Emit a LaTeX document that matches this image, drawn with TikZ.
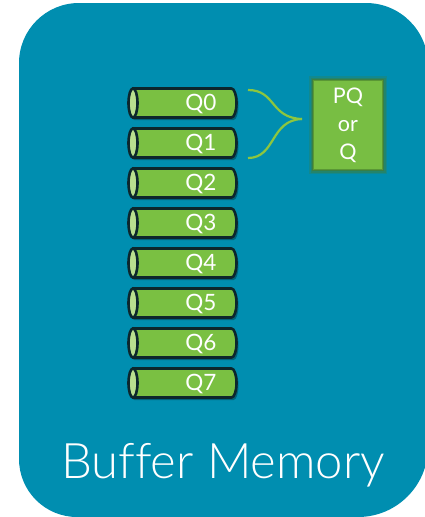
\documentclass[tikz,border=0pt]{standalone}
\usepackage{fontspec}
\setmainfont{Lato}
\newfontfamily\thinfont{Lato Light}[Ligatures=NoCommon]
\definecolor{bgteal}{RGB}{0,142,176}
\definecolor{qgreen}{RGB}{122,192,66}
\definecolor{qlight}{RGB}{184,223,143}
\definecolor{qline}{RGB}{12,38,44}
\definecolor{bracegreen}{RGB}{141,198,63}
\definecolor{pqgreen}{RGB}{120,190,67}
\definecolor{pqedge}{RGB}{70,125,45}
\begin{document}
\begin{tikzpicture}[x=1pt,y=-1pt,
  qanchor/.style={rectangle, draw=none, minimum width=109pt, minimum height=31pt, inner sep=0pt, outer sep=0pt},
  qbody/.style={fill=qgreen, draw=qline, line width=2.6pt, line join=round},
  qend/.style={fill=qlight, draw=qline, line width=2.6pt},
  qshadow/.style={fill=black, opacity=0.3},
  qlabel/.style={text=white, font=\fontsize{22.5}{22.5}\selectfont, inner sep=0pt, anchor=base},
  pqbox/.style={rectangle, fill=pqgreen, minimum width=70pt, minimum height=90pt,
    text=white, align=center, font=\fontsize{21.5}{28}\selectfont, inner sep=0pt,
    preaction={draw=pqedge, line width=8pt, opacity=0.25},
    preaction={draw=pqedge, line width=5pt, opacity=0.35},
    draw=pqedge, draw opacity=0.6, line width=2.5pt},
  bracestyle/.style={draw=bracegreen, line width=2.2pt}]
\useasboundingbox (0,0) rectangle (425,517);
% background panel
\fill[bgteal] (19,63) arc[start angle=180, end angle=270, x radius=60pt, y radius=-60pt]
  -- (366,3) arc[start angle=90, end angle=0, x radius=62pt, y radius=62pt]
  -- (428,447) arc[start angle=0, end angle=-90, x radius=70pt, y radius=70pt]
  -- (77,517) arc[start angle=270, end angle=180, x radius=58pt, y radius=58pt]
  -- cycle;
% queues
\foreach \i in {0,...,7}{
  \pgfmathsetmacro{\yc}{103+40*\i}
  \node[qanchor] (q\i) at (182.5,\yc) {};
  \fill[qshadow] ([shift={(2,2.5)}]q\i.north west) ++(4.5,1) -- ++(99,0)
     arc[start angle=90, end angle=-90, x radius=5pt, y radius=14.5pt] -- ++(-99,0)
     arc[start angle=270, end angle=90, x radius=5pt, y radius=14.5pt] -- cycle;
  \draw[qbody] (q\i.north west) ++(4.5,1) -- ++(99,0)
     arc[start angle=90, end angle=-90, x radius=5pt, y radius=14.5pt] -- ++(-99,0) -- cycle;
  \draw[qend] (q\i.west) ++(5,0) ellipse[x radius=4.5pt, y radius=14.5pt];
  \node[qlabel] (l\i) at (201,{110.5+40*\i}) {Q\i};
}
% PQ box
\node[pqbox] (pq) at (348,125) {PQ\\or\\Q};
% brace
\coordinate (bt) at (248,90);
\coordinate (bb) at (248,158);
\coordinate (tip) at (302,119);
\draw[bracestyle] (bt) .. controls (276,90) and (270,118) .. (tip);
\draw[bracestyle] (bb) .. controls (276,158) and (270,120) .. (tip);
% title
\node[text=white, font=\thinfont\fontsize{49}{49}\selectfont, anchor=base, inner sep=0pt] (title) at (223,478) {Buffer Memory};
\end{tikzpicture}
\end{document}
